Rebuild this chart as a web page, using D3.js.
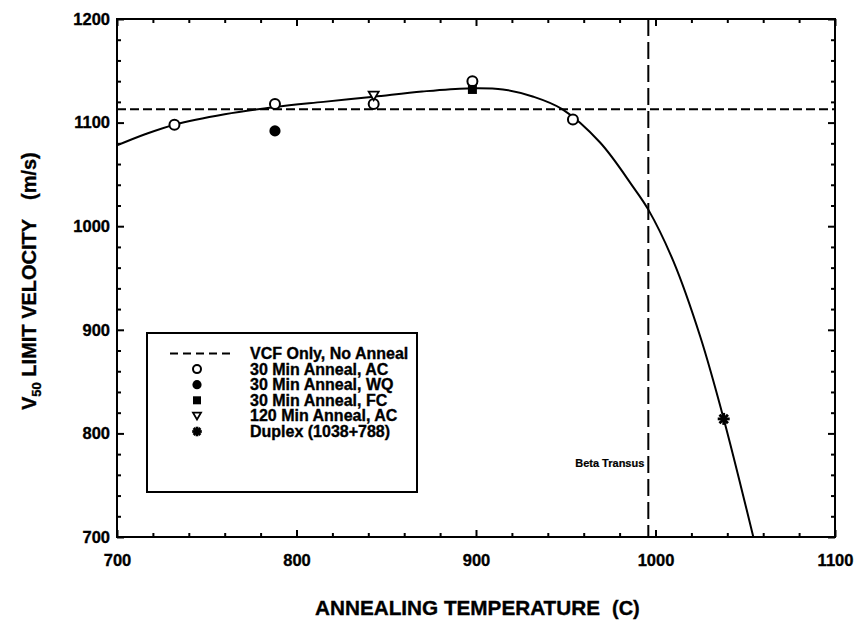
<!DOCTYPE html>
<style>
  body { margin: 0; background: #fff; }
  svg { font-family: 'Liberation Sans', Arial, sans-serif; font-weight: bold; }
  svg text { stroke: #000; stroke-width: 0.35px; }
</style>
<svg id='chart' width='858' height='620'></svg>
<script src="https://d3js.org/d3.v7.min.js"></script>
<script>
// axis ticks
var xTicks = [700, 800, 900, 1000, 1100],
    yTicks = [700, 800, 900, 1000, 1100, 1200],
    xMinor = [720, 740, 760, 780, 820, 840, 860, 880, 920, 940, 960, 980, 1020, 1040, 1060, 1080],
    yMinor = [720, 740, 760, 780, 820, 840, 860, 880, 920, 940, 960, 980, 1020, 1040, 1060, 1080, 1120, 1140, 1160, 1180]

// measured points (temperature C, V50 m/s)
var acTemp = [732, 788, 843, 898, 954],
    acVel = [1098, 1118, 1118, 1140, 1103]
var wqTemp = [788],
    wqVel = [1092]
var fcTemp = [898],
    fcVel = [1132]
var ac120Temp = [843],
    ac120Vel = [1126]
var duplexTemp = [1038],
    duplexVel = [814]

// reference lines
var vcfOnly = 1113,
    betaTransus = 996

// fitted curve
var fitTemp = [700, 716, 732, 760, 788, 815, 843, 870, 895, 915, 932, 948, 969, 987.5, 996, 1010, 1025, 1038, 1054.5],
    fitVel = [1078, 1089, 1098, 1108, 1115, 1120, 1125, 1130, 1133, 1132, 1125, 1113, 1081, 1038, 1016, 966, 893, 814, 700]

var legendLabels = ['VCF Only, No Anneal', '30 Min Anneal, AC', '30 Min Anneal, WQ', '30 Min Anneal, FC', '120 Min Anneal, AC', 'Duplex (1038+788)']

var plot = {left: 117, right: 835, top: 19, bottom: 537}

var x = d3.scaleLinear().domain([700, 1100]).range([plot.left, plot.right]),
    y = d3.scaleLinear().domain([700, 1200]).range([plot.bottom, plot.top])

var svg = d3.select('#chart')

svg.append('defs').append('clipPath').attr('id', 'clip')
  .append('rect')
  .attr('x', plot.left).attr('y', plot.top)
  .attr('width', plot.right - plot.left).attr('height', plot.bottom - plot.top)

function drawAxis(gen, scale, at, values, size, pad, labels) {
  var g = svg.append('g')
    .attr('transform', at)
    .call(gen(scale).tickValues(values).tickSize(size).tickPadding(pad)
      .tickFormat(labels ? d3.format('d') : ''))
  g.select('.domain').remove()
  g.selectAll('line').attr('stroke', '#000').attr('stroke-width', 2)
  g.attr('font-size', 16.5).attr('font-family', null).attr('font-weight', 'bold')
  g.selectAll('text').attr('fill', '#000')
}

drawAxis(d3.axisBottom, x, `translate(0,${plot.bottom})`, xMinor, -4, 0, false)
drawAxis(d3.axisBottom, x, `translate(0,${plot.bottom})`, xTicks, -7, 17, true)
drawAxis(d3.axisTop, x, `translate(0,${plot.top})`, xMinor, -4, 0, false)
drawAxis(d3.axisTop, x, `translate(0,${plot.top})`, xTicks, -7, 0, false)
drawAxis(d3.axisLeft, y, `translate(${plot.left},0)`, yMinor, -4, 0, false)
drawAxis(d3.axisLeft, y, `translate(${plot.left},0)`, yTicks, -7, 7, true)
drawAxis(d3.axisRight, y, `translate(${plot.right},0)`, yMinor, -4, 0, false)
drawAxis(d3.axisRight, y, `translate(${plot.right},0)`, yTicks, -7, 0, false)

svg.append('rect')
  .attr('x', plot.left).attr('y', plot.top)
  .attr('width', plot.right - plot.left).attr('height', plot.bottom - plot.top)
  .attr('fill', 'none').attr('stroke', '#000').attr('stroke-width', 2)

// reference lines
svg.append('line')
  .attr('x1', x(700)).attr('x2', x(1100))
  .attr('y1', y(vcfOnly)).attr('y2', y(vcfOnly))
  .attr('stroke', '#000').attr('stroke-width', 2).attr('stroke-dasharray', '9,4')

svg.append('line')
  .attr('x1', x(betaTransus)).attr('x2', x(betaTransus))
  .attr('y1', y(1200)).attr('y2', y(700))
  .attr('stroke', '#000').attr('stroke-width', 2).attr('stroke-dasharray', '17,6')

svg.append('text')
  .attr('x', x(betaTransus) - 4).attr('y', 467)
  .attr('text-anchor', 'end').attr('font-size', 11)
  .style('stroke-width', '0.2px')
  .text('Beta Transus')

// fitted curve
var line = d3.line()
  .x((d) => x(d[0]))
  .y((d) => y(d[1]))
  .curve(d3.curveCatmullRom)

svg.append('path')
  .datum(fitTemp.map((t, i) => [t, fitVel[i]]))
  .attr('d', line)
  .attr('clip-path', 'url(#clip)')
  .attr('fill', 'none').attr('stroke', '#000').attr('stroke-width', 2)

// marker shapes
function marker(g, type, s) {
  if (type == 'open') {
    g.append('circle').attr('r', s).attr('fill', '#fff').attr('stroke', '#000').attr('stroke-width', 2)
  } else if (type == 'filled') {
    g.append('circle').attr('r', s + 0.6).attr('fill', '#000')
  } else if (type == 'square') {
    g.append('rect').attr('x', -s).attr('y', -s).attr('width', s * 2).attr('height', s * 2).attr('fill', '#000')
  } else if (type == 'triangle') {
    g.append('path')
      .attr('d', `M${-s},${-s * 0.8}L${s},${-s * 0.8}L0,${s * 0.9}Z`)
      .attr('fill', '#fff').attr('stroke', '#000').attr('stroke-width', 1.8)
  } else if (type == 'star') {
    [0, 45, 90, 135].forEach((a) => {
      g.append('line')
        .attr('x1', -s).attr('x2', s)
        .attr('transform', `rotate(${a})`)
        .attr('stroke', '#000').attr('stroke-width', 2.8)
    })
  }
}

var series = [
  {type: 'open', t: acTemp, v: acVel, size: 5},
  {type: 'filled', t: wqTemp, v: wqVel, size: 5},
  {type: 'square', t: fcTemp, v: fcVel, size: 4.5},
  {type: 'triangle', t: ac120Temp, v: ac120Vel, size: 5},
  {type: 'star', t: duplexTemp, v: duplexVel, size: 6}
]

series.forEach((s) => {
  s.t.forEach((t, i) => {
    var g = svg.append('g').attr('transform', `translate(${x(t)},${y(s.v[i])})`)
    marker(g, s.type, s.size)
  })
})

// legend
var legend = svg.append('g')
legend.append('rect')
  .attr('x', 147).attr('y', 333).attr('width', 270).attr('height', 159)
  .attr('fill', '#fff').attr('stroke', '#000').attr('stroke-width', 2)

var legendTypes = ['dash', 'open', 'filled', 'square', 'triangle', 'star']
legendLabels.forEach((label, i) => {
  var cy = 353.5 + i * 15.6
  if (legendTypes[i] == 'dash') {
    legend.append('line')
      .attr('x1', 170).attr('x2', 232).attr('y1', cy).attr('y2', cy)
      .attr('stroke', '#000').attr('stroke-width', 2).attr('stroke-dasharray', '8,5')
  } else {
    var g = legend.append('g').attr('transform', `translate(197,${cy})`)
    marker(g, legendTypes[i], legendTypes[i] == 'star' ? 4.8 : 4)
  }
  legend.append('text')
    .attr('x', 250).attr('y', cy + 5.5)
    .attr('font-size', 16)
    .text(label)
})

// axis titles
svg.append('text')
  .attr('x', 315).attr('y', 615)
  .attr('font-size', 20)
  .attr('textLength', 285).attr('lengthAdjust', 'spacingAndGlyphs')
  .text('ANNEALING TEMPERATURE')
svg.append('text')
  .attr('x', 612).attr('y', 615)
  .attr('font-size', 20)
  .text('(C)')

var yTitle = svg.append('text')
  .attr('transform', 'translate(36,410) rotate(-90)')
  .attr('font-size', 20)
yTitle.append('tspan').text('V')
yTitle.append('tspan').attr('font-size', 13).attr('dy', 5).text('50')
yTitle.append('tspan').attr('dy', -5).text(' LIMIT VELOCITY')

svg.append('text')
  .attr('transform', 'translate(36,200) rotate(-90)')
  .attr('font-size', 20)
  .text('(m/s)')
</script>
